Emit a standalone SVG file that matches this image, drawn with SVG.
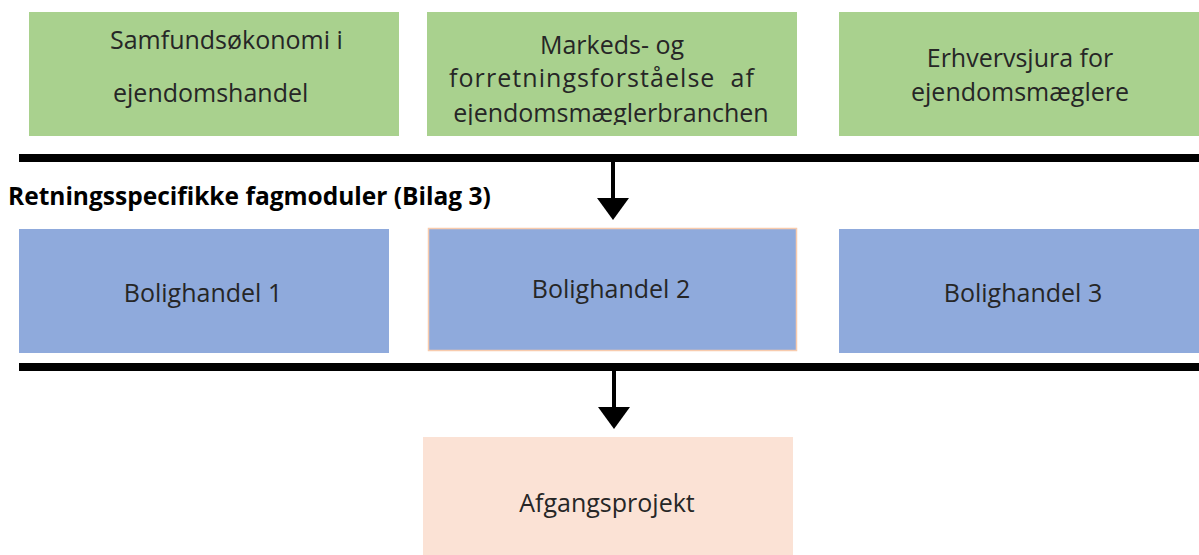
<svg xmlns="http://www.w3.org/2000/svg" width="1199" height="555" viewBox="0 0 1199 555">
<style>
.t{font-family:"Open Sans","Liberation Sans",sans-serif;font-size:25px;fill:#262626;text-anchor:middle}
.g{fill:#a9d18e}
.b{fill:#8faadc}
.p{fill:#fbe2d5}
.bar{fill:#000}
</style>
<defs>
<clipPath id="c2"><rect x="427" y="12" width="370" height="113"/></clipPath>
</defs>
<rect width="1199" height="555" fill="#fff"/>
<g id="n1"><rect class="g" x="29" y="12" width="370" height="124"/>
<text class="t" x="110" y="49" style="text-anchor:start">Samfundsøkonomi i</text>
<text class="t" x="113" y="102" style="text-anchor:start">ejendomshandel</text></g>
<g id="n2"><rect class="g" x="427" y="12" width="370" height="124"/>
<g clip-path="url(#c2)">
<text class="t" x="612" y="54">Markeds- og</text>
<text class="t" x="449" y="87" xml:space="preserve" style="text-anchor:start" textLength="305" lengthAdjust="spacing">forretningsforståelse  af</text>
<text class="t" x="611" y="122">ejendomsmæglerbranchen</text></g></g>
<g id="n3"><rect class="g" x="839" y="12" width="360" height="124"/>
<text class="t" x="1020" y="67">Erhvervsjura for</text>
<text class="t" x="1020" y="101">ejendomsmæglere</text></g>
<g id="label"><text x="8" y="205" style="font-family:'Open Sans','Liberation Sans',sans-serif;font-size:24.5px;font-weight:bold;fill:#000">Retningsspecifikke fagmoduler (Bilag 3)</text></g>
<g id="n4"><rect class="b" x="19" y="229" width="370" height="124"/>
<text class="t" x="203" y="302">Bolighandel 1</text></g>
<g id="n5"><rect class="b" x="428.5" y="228.5" width="368" height="122" stroke="#f8cbad" stroke-width="1.5"/>
<text class="t" x="611" y="298">Bolighandel 2</text></g>
<g id="n6"><rect class="b" x="839" y="229" width="360" height="124"/>
<text class="t" x="1023" y="302">Bolighandel 3</text></g>
<g id="n7"><rect class="p" x="423" y="437" width="370" height="118"/>
<text class="t" x="607" y="512">Afgangsprojekt</text></g>
<g id="connectors">
<rect class="bar" x="19" y="154" width="1180" height="8"/>
<rect class="bar" x="19" y="363" width="1180" height="8"/>
<line x1="613" y1="162" x2="613" y2="200" stroke="#000" stroke-width="4"/>
<polygon points="597,198 629,198 613,220" fill="#000"/>
<line x1="614" y1="371" x2="614" y2="409" stroke="#000" stroke-width="4"/>
<polygon points="598,407 630,407 614,429" fill="#000"/>
</g>
</svg>
